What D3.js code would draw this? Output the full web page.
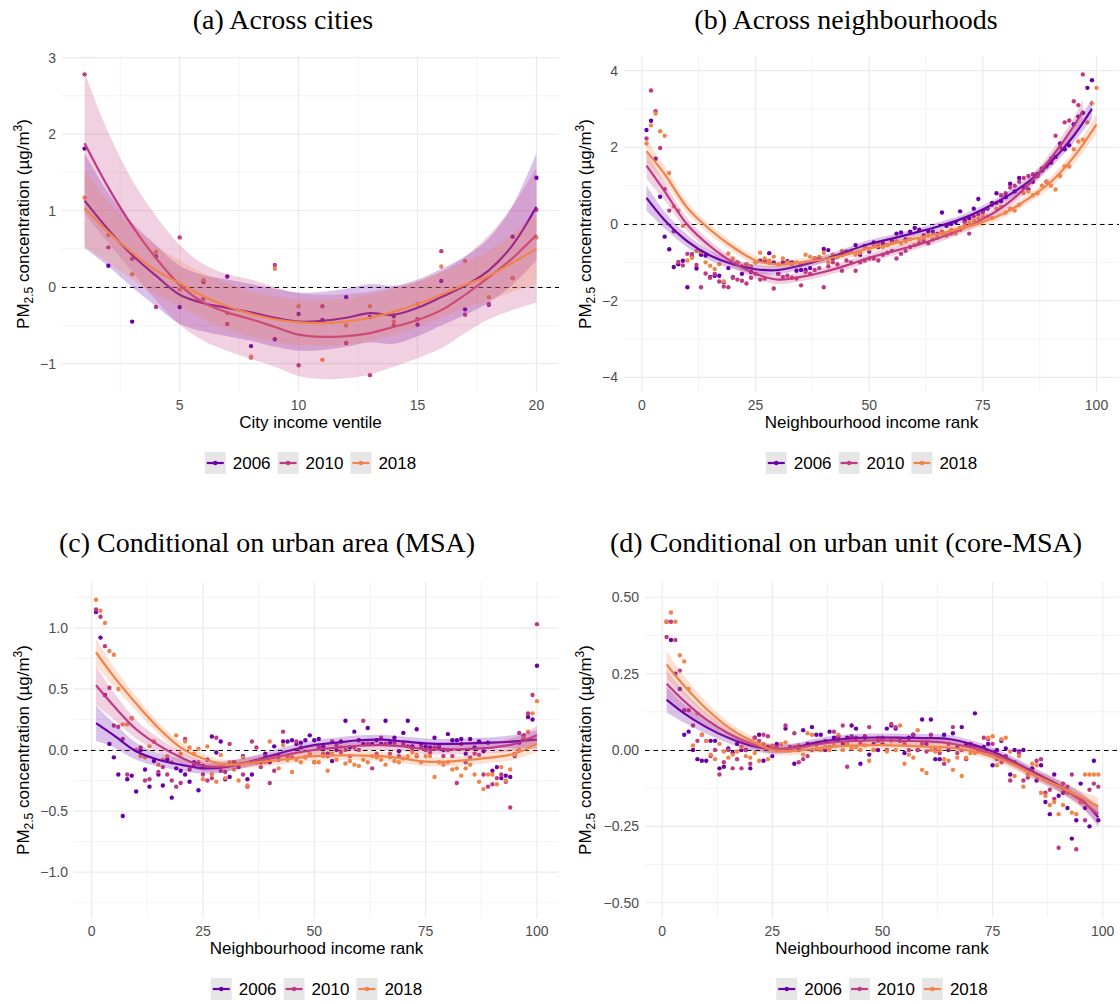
<!DOCTYPE html>
<html>
<head>
<meta charset="utf-8">
<script src="https://cdnjs.cloudflare.com/ajax/libs/d3/7.8.5/d3.min.js"></script>
<style>
  body { margin: 0; background: #fff; }
  svg text { font-family: "Liberation Sans", Arial, sans-serif; }
</style>
</head>
<body>
<svg id="chart" width="1120" height="1004"></svg>
<script>
/* ----------------------- DATA -----------------------*/
const years = ["2006", "2010", "2018"];

// knots of the smoothed fits (rank panels); last knot differs per series
const rankKnots = [1, 5, 10, 15, 20, 25, 30, 35, 40, 45, 50, 55, 60, 65, 70, 75, 80, 85, 90, 95];
const ventiles = [1, 2, 3, 4, 5, 6, 7, 8, 9, 10, 11, 12, 13, 14, 15, 16, 17, 18, 19, 20];

// (a) across cities, x = ventile 1..20
const aPts2006 = [1.81, 0.28, -0.45, 0.40, -0.26, 0.07, 0.14, -0.77, -0.68, -0.35, -0.43, -0.13, -0.39, -0.38, -0.49, 0.08, -0.29, -0.23, 0.66, 1.43];
const aPts2010 = [2.78, 0.52, 0.37, -0.26, 0.65, -0.15, -0.48, -0.92, 0.29, -1.02, -0.25, -0.73, -1.15, -0.50, -0.42, 0.47, -0.36, -0.22, 0.12, 1.01];
const aPts2018 = [1.17, 0.68, 0.17, 0.46, -0.03, 0.09, -0.34, -0.91, 0.24, -0.25, -0.95, -0.50, -0.25, -0.45, -0.22, 0.27, 0.34, -0.13, 0.12, 0.65];
const aFit2006 = [1.13, 0.75, 0.42, 0.15, -0.1, -0.21, -0.27, -0.33, -0.4, -0.45, -0.44, -0.40, -0.34, -0.36, -0.27, -0.13, 0.02, 0.22, 0.55, 1.05];
const aFit2010 = [1.88, 1.3, 0.8, 0.38, 0.03, -0.2, -0.33, -0.42, -0.52, -0.62, -0.65, -0.64, -0.6, -0.52, -0.43, -0.3, -0.1, 0.13, 0.38, 0.68];
const aFit2018 = [1.03, 0.72, 0.45, 0.22, 0.05, -0.12, -0.25, -0.35, -0.42, -0.46, -0.47, -0.45, -0.4, -0.32, -0.22, -0.1, 0.03, 0.15, 0.32, 0.5];
const aSe2006 = [0.62, 0.48, 0.42, 0.4, 0.38, 0.37, 0.37, 0.37, 0.38, 0.38, 0.38, 0.38, 0.38, 0.38, 0.37, 0.37, 0.38, 0.42, 0.52, 0.7];
const aSe2010 = [0.92, 0.72, 0.6, 0.55, 0.52, 0.5, 0.5, 0.52, 0.52, 0.54, 0.55, 0.55, 0.54, 0.52, 0.5, 0.5, 0.5, 0.55, 0.68, 0.88];
const aSe2018 = [0.5, 0.4, 0.35, 0.32, 0.3, 0.3, 0.3, 0.3, 0.3, 0.3, 0.3, 0.3, 0.3, 0.3, 0.3, 0.3, 0.3, 0.32, 0.38, 0.46];

// (b) across neighbourhoods, x = income rank
const bPts2006 = [2.45, 2.69, 1.7, 0.71, -0.33, -0.66, -1.12, -1.05, -0.96, -1.65,
  -0.85, -1.16, -0.8, -0.82, -1.38, -1.35, -1.35, -1.52, -1.15, -1.39,
  -1.0, -1.3, -1.05, -1.25, -1.0, -0.96, -0.96, -0.76, -1.0, -1.3,
  -1.0, -0.97, -1.0, -1.22, -1.2, -1.2, -1.15, -0.9, -0.88, -0.65,
  -0.68, -0.9, -0.85, -0.8, -0.72, -0.7, -0.55, -0.8, -0.57, -0.72,
  -0.48, -0.6, -0.5, -0.55, -0.45, -0.25, -0.22, -0.4, -0.2, -0.1,
  -0.15, -0.3, -0.2, -0.2, -0.25, 0.3, -0.05, 0.0, 0.05, 0.33,
  0.1, 0.15, 0.4, 0.65, 0.35, 0.4, 0.55, 0.8, 0.6, 0.7,
  1.05, 0.85, 1.2, 0.95, 0.9, 1.1, 1.3, 1.4, 1.1, 1.6,
  1.75, 2.1, 1.95, 2.05, 2.6, 2.8, 2.9, 3.55, 3.75];
const bPts2010 = [2.23, 3.48, 2.94, 1.98, 0.91, 0.35, -0.19, -0.99, -1.08, -0.78,
  -0.78, -1.07, -1.65, -1.29, -1.4, -1.3, -1.5, -1.63, -1.65, -1.4,
  -1.45, -1.48, -1.55, -1.4, -1.3, -1.45, -1.42, -1.0, -1.68, -1.3,
  -1.38, -1.35, -1.4, -1.42, -1.6, -1.25, -1.3, -1.2, -1.15, -1.65,
  -1.1, -1.0, -1.05, -1.22, -0.95, -1.0, -1.22, -1.0, -0.95, -0.9,
  -0.9, -0.95, -0.8, -0.75, -0.7, -0.9, -0.78, -0.7, -0.6, -0.55,
  -0.5, -0.45, -0.5, -0.4, -0.35, -0.2, -0.3, -0.25, -0.2, -0.15,
  0.05, -0.25, 0.2, 0.25, 0.3, 0.4, 0.5, 0.55, 0.75, 0.8,
  0.95, 1.0, 1.1, 1.2, 1.25, 1.3, 1.25, 1.45, 1.5, 1.7,
  2.3, 2.0, 2.65, 2.7, 3.2, 3.1, 3.9];
const bPts2018 = [2.1, 2.57, 2.88, 2.42, 2.3, 1.33, 0.46, 0.35, -0.05, -0.95,
  -0.88, -0.7, -0.73, -1.0, -1.09, -1.17, -1.05, -1.5, -0.77, -0.9,
  -1.0, -1.1, -1.05, -1.1, -1.0, -0.75, -0.9, -0.95, -0.85, -1.05,
  -0.9, -1.0, -1.05, -1.0, -1.05, -0.8, -0.85, -0.9, -0.85, -0.75,
  -1.0, -0.8, -0.85, -0.7, -0.75, -0.7, -0.8, -0.75, -0.6, -0.65,
  -0.55, -0.5, -0.6, -0.55, -0.5, -0.45, -0.5, -0.45, -0.4, -0.55,
  -0.4, -0.35, -0.3, -0.4, -0.35, -0.25, -0.3, -0.15, -0.25, -0.1,
  -0.05, 0.05, 0.1, 0.15, 0.2, 0.2, 0.15, 0.4, 0.45, 0.3,
  0.4, 0.35, 0.5, 0.8, 0.85, 0.75, 0.8, 1.0, 1.1, 1.0,
  0.9, 1.25, 1.5, 1.5, 1.95, 2.15, 2.2, 2.65, 3.15, 3.55];
const bKnotEnd = [99, 97, 100];
const bFit2006 = [0.68, 0.1, -0.45, -0.82, -1.05, -1.18, -1.2, -1.08, -0.92, -0.72, -0.52, -0.38, -0.23, -0.07, 0.12, 0.38, 0.7, 1.1, 1.62, 2.3, 3.0];
const bFit2010 = [1.52, 0.85, -0.02, -0.58, -1.0, -1.3, -1.45, -1.38, -1.25, -1.08, -0.88, -0.72, -0.56, -0.38, -0.15, 0.13, 0.5, 1.02, 1.72, 2.55, 2.95];
const bFit2018 = [1.9, 1.3, 0.42, -0.15, -0.6, -0.95, -1.06, -1.0, -0.92, -0.8, -0.64, -0.52, -0.38, -0.26, -0.12, 0.05, 0.3, 0.66, 1.1, 1.75, 2.6];
const bSe2006 = [0.33, 0.22, 0.16, 0.13, 0.12, 0.12, 0.11, 0.1, 0.1, 0.1, 0.1, 0.1, 0.1, 0.1, 0.1, 0.1, 0.11, 0.12, 0.14, 0.18, 0.27];
const bSe2010 = [0.35, 0.24, 0.17, 0.14, 0.13, 0.13, 0.12, 0.11, 0.11, 0.11, 0.11, 0.11, 0.11, 0.11, 0.11, 0.11, 0.12, 0.14, 0.17, 0.22, 0.3];
const bSe2018 = [0.3, 0.21, 0.15, 0.13, 0.12, 0.12, 0.11, 0.1, 0.1, 0.1, 0.1, 0.1, 0.1, 0.1, 0.1, 0.1, 0.11, 0.12, 0.14, 0.18, 0.26];

// (c) conditional on urban area (MSA)
const cPts2006 = [1.13, 0.92, 0.45, 0.05, -0.06, -0.2, -0.54, -0.24, -0.21, -0.34,
  0.0, -0.16, -0.3, -0.09, -0.2, -0.29, -0.08, -0.39, -0.15, -0.17,
  -0.2, -0.26, -0.1, -0.33, -0.13, -0.08, 0.11, -0.02, 0.07, -0.24,
  -0.22, -0.1, -0.14, -0.05, -0.24, -0.2, -0.1, -0.1, -0.03, -0.1,
  0.03, -0.05, 0.07, 0.07, 0.08, 0.05, 0.06, 0.08, 0.12, 0.08,
  0.09, 0.03, -0.03, -0.09, 0.0, 0.07, 0.24, 0.02, 0.15, 0.08,
  0.05, 0.18, 0.05, 0.08, 0.05, 0.24, 0.06, 0.1, -0.01, 0.14,
  0.24, 0.03, 0.17, 0.05, 0.03, 0.02, 0.1, 0.02, 0.0, 0.13,
  0.08, 0.08, 0.09, -0.03, 0.09, 0.02, 0.07, -0.01, 0.06, -0.17,
  -0.14, -0.23, -0.21, -0.22, -0.05, 0.06, 0.09, 0.27, 0.25, 0.69];
const cPts2010 = [1.15, 1.09, 0.85, 0.51, 0.2, 0.19, 0.09, -0.2, 0.26, 0.0,
  0.02, -0.25, -0.24, 0.07, -0.18, -0.14, -0.2, -0.25, -0.3, -0.27,
  0.09, -0.16, -0.12, -0.1, -0.2, -0.25, -0.23, 0.1, -0.17, -0.18,
  0.05, -0.1, -0.12, -0.2, -0.3, 0.07, 0.02, -0.14, -0.05, -0.27,
  -0.17, -0.08, 0.15, -0.05, -0.06, 0.07, 0.02, -0.06, -0.04, -0.1,
  0.02, -0.03, -0.05, 0.07, 0.04, -0.02, 0.0, -0.05, 0.02, 0.0,
  0.24, 0.05, -0.15, -0.03, 0.1, 0.05, -0.03, 0.06, -0.05, 0.05,
  0.03, 0.01, -0.05, 0.02, 0.0, -0.02, 0.02, 0.04, -0.05, 0.0,
  -0.05, -0.27, 0.05, -0.1, -0.06, -0.03, -0.04, -0.2, -0.3, -0.28,
  -0.23, -0.2, -0.26, -0.47, -0.03, 0.14, 0.12, 0.3, 0.45, 1.03];
const cPts2018 = [1.23, 1.14, 1.04, 0.81, 0.78, 0.5, 0.21, 0.21, 0.26, 0.0,
  -0.05, -0.06, 0.03, 0.07, -0.12, -0.08, -0.05, -0.1, 0.12, -0.03,
  0.07, 0.02, -0.03, 0.01, -0.24, 0.03, -0.2, -0.26, -0.04, -0.23,
  -0.1, -0.16, -0.25, -0.06, -0.29, -0.1, -0.1, -0.08, -0.1, 0.07,
  -0.05, -0.15, 0.04, -0.08, -0.18, -0.08, -0.1, -0.06, -0.03, -0.1,
  -0.1, -0.05, -0.17, -0.03, -0.08, 0.02, -0.11, -0.09, -0.12, -0.13,
  -0.08, -0.1, -0.05, -0.06, -0.08, -0.12, -0.06, -0.09, -0.1, -0.07,
  -0.05, -0.02, -0.04, -0.1, -0.05, -0.05, -0.22, -0.1, -0.12, -0.1,
  -0.16, -0.15, -0.21, -0.15, -0.12, -0.2, -0.26, -0.32, -0.2, -0.2,
  -0.28, -0.14, -0.25, -0.16, -0.04, 0.0, 0.1, 0.15, 0.3, 0.4];
const cKnotEnd = [100, 100, 100];
const cFit2006 = [0.22, 0.12, -0.01, -0.08, -0.12, -0.15, -0.14, -0.1, -0.05, 0.0, 0.04, 0.06, 0.08, 0.085, 0.07, 0.055, 0.05, 0.055, 0.06, 0.07, 0.085];
const cFit2010 = [0.53, 0.36, 0.17, 0.04, -0.06, -0.13, -0.13, -0.1, -0.07, -0.03, 0.0, 0.02, 0.035, 0.04, 0.03, 0.005, 0.005, 0.01, 0.02, 0.05, 0.12];
const cFit2018 = [0.8, 0.6, 0.38, 0.18, 0.02, -0.07, -0.12, -0.11, -0.09, -0.07, -0.05, -0.045, -0.045, -0.05, -0.07, -0.095, -0.095, -0.08, -0.06, -0.03, 0.05];
const cSe2006 = [0.145, 0.1, 0.07, 0.055, 0.05, 0.045, 0.042, 0.04, 0.04, 0.04, 0.04, 0.04, 0.04, 0.04, 0.04, 0.04, 0.04, 0.042, 0.045, 0.055, 0.075];
const cSe2010 = [0.16, 0.11, 0.075, 0.06, 0.05, 0.045, 0.042, 0.04, 0.04, 0.04, 0.04, 0.04, 0.04, 0.04, 0.04, 0.04, 0.04, 0.042, 0.045, 0.055, 0.075];
const cSe2018 = [0.11, 0.08, 0.06, 0.05, 0.045, 0.042, 0.04, 0.038, 0.038, 0.038, 0.038, 0.038, 0.038, 0.038, 0.038, 0.038, 0.038, 0.04, 0.042, 0.05, 0.065];

// (d) conditional on urban unit (core-MSA)
const dPts2006 = [0.42, 0.36, 0.25, 0.2, 0.05, 0.06, 0.0, -0.03, -0.035, -0.035,
  0.03, 0.03, -0.06, -0.055, 0.005, -0.01, 0.02, 0.0, 0.0, -0.06,
  0.04, 0.05, -0.035, 0.01, -0.02, 0.02, 0.0, 0.07, 0.0, -0.045,
  0.0, 0.065, 0.02, 0.075, 0.05, 0.05, 0.0, 0.06, 0.04, 0.035,
  0.02, 0.04, 0.08, 0.07, -0.045, 0.04, -0.015, 0.02, 0.0, 0.02,
  0.07, 0.08, 0.07, 0.03, -0.01, 0.04, 0.05, 0.0, 0.1, 0.02,
  0.1, -0.03, -0.03, 0.05, 0.0, 0.055, 0.01, 0.075, 0.02, 0.015,
  0.12, 0.0, 0.01, 0.02, -0.05, 0.0, 0.03, 0.005, -0.08, 0.0,
  -0.005, 0.0, -0.065, -0.06, -0.1, -0.05, -0.17, -0.21, -0.08, -0.15,
  -0.14, -0.19, -0.29, -0.23, -0.11, -0.19, -0.25, -0.035, -0.23];
const dPts2010 = [0.37, 0.42, 0.36, 0.26, 0.13, 0.13, 0.08, 0.03, 0.05, 0.03,
  -0.02, 0.0, -0.08, -0.04, 0.0, -0.06, -0.03, -0.06, 0.0, -0.045,
  0.04, 0.03, 0.05, 0.045, 0.01, 0.01, 0.0, 0.08, 0.01, 0.055,
  -0.04, -0.03, -0.02, 0.0, 0.02, 0.0, 0.03, 0.01, 0.06, 0.045,
  0.08, -0.055, 0.045, 0.04, 0.02, 0.045, 0.075, 0.0, 0.03, 0.04,
  0.0, 0.085, 0.075, 0.03, 0.02, 0.0, 0.05, 0.0, 0.02, -0.005,
  0.05, 0.0, -0.01, -0.045, 0.02, 0.075, -0.01, 0.0, -0.03, 0.02,
  0.01, 0.0, 0.04, 0.035, 0.02, -0.03, -0.04, -0.02, -0.1, -0.04,
  -0.01, -0.1, -0.09, -0.07, -0.035, -0.03, -0.14, -0.13, -0.16, -0.32,
  -0.11, -0.12, -0.08, -0.325, -0.17, -0.23, -0.13, -0.11, -0.12];
const dPts2018 = [0.42, 0.45, 0.42, 0.31, 0.29, 0.2, 0.015, 0.12, 0.05, 0.03,
  -0.015, -0.03, 0.02, -0.005, -0.025, -0.015, -0.005, 0.01, -0.02, -0.025,
  -0.01, -0.035, 0.02, -0.03, 0.015, 0.0, 0.02, 0.025, 0.0, 0.01,
  0.015, -0.015, 0.055, 0.05, 0.005, 0.0, 0.01, 0.0, 0.015, 0.05,
  0.0, 0.02, 0.005, 0.01, 0.0, 0.015, -0.035, 0.0, 0.04, 0.03,
  -0.005, 0.03, 0.0, 0.08, -0.045, -0.015, -0.025, 0.065, -0.065, -0.075,
  0.0, -0.005, 0.0, -0.03, -0.035, -0.065, -0.025, -0.085, -0.025, -0.01,
  -0.01, 0.005, -0.005, 0.04, 0.045, -0.05, 0.035, 0.04, -0.005, -0.085,
  -0.02, -0.12, -0.08, -0.045, -0.05, -0.14, -0.15, -0.18, -0.17, -0.21,
  -0.18, -0.14, -0.205, -0.21, -0.17, -0.08, -0.08, -0.08, -0.08];
const dKnotEnd = [99, 99, 99];
const dFit2006 = [0.165, 0.12, 0.075, 0.04, 0.015, 0.003, 0.008, 0.025, 0.035, 0.04, 0.041, 0.04, 0.039, 0.036, 0.02, -0.005, -0.04, -0.078, -0.115, -0.16, -0.22];
const dFit2010 = [0.217, 0.16, 0.1, 0.055, 0.022, 0.005, 0.006, 0.018, 0.027, 0.03, 0.032, 0.03, 0.028, 0.022, 0.008, -0.013, -0.045, -0.085, -0.12, -0.165, -0.21];
const dFit2018 = [0.28, 0.21, 0.135, 0.075, 0.032, 0.0, -0.003, 0.005, 0.012, 0.015, 0.016, 0.014, 0.011, 0.008, -0.002, -0.022, -0.05, -0.085, -0.118, -0.155, -0.185];
const dSe2006 = [0.042, 0.03, 0.022, 0.018, 0.016, 0.015, 0.014, 0.013, 0.013, 0.013, 0.013, 0.013, 0.013, 0.013, 0.013, 0.014, 0.015, 0.016, 0.018, 0.022, 0.032];
const dSe2010 = [0.045, 0.032, 0.023, 0.018, 0.016, 0.015, 0.014, 0.013, 0.013, 0.013, 0.013, 0.013, 0.013, 0.013, 0.013, 0.014, 0.015, 0.016, 0.018, 0.022, 0.032];
const dSe2018 = [0.045, 0.032, 0.023, 0.018, 0.016, 0.015, 0.014, 0.013, 0.013, 0.013, 0.013, 0.013, 0.013, 0.013, 0.013, 0.014, 0.015, 0.016, 0.018, 0.022, 0.03];

/* ----------------------- STYLE -----------------------*/
const yearColors = ["#6a00a8", "#c03a83", "#f1844b"];
const gridColor = "#ebebeb";
const tickColor = "#4d4d4d";

const svg = d3.select("#chart");

// Build the panel table from the arrays above
function rankSeries(pts, fits, ses, ends) {
  return years.map(function(yr, i) {
    return {pts: pts[i], fitX: rankKnots.concat([ends[i]]), fit: fits[i], se: ses[i]};
  });
}

const panels = [
  {title: "(a) Across cities", xTitle: "City income ventile",
   left: 62, right: 559, top: 56, bottom: 392, titleX: 283, titleY: 29, yTitleX: 29,
   xDomain: [0.05, 20.95], yDomain: [-1.37, 3.02],
   xMajor: [5, 10, 15, 20], xMinor: [2.5, 7.5, 12.5, 17.5],
   yMajor: [-1, 0, 1, 2, 3], yMinor: [-0.5, 0.5, 1.5, 2.5], yFormat: d3.format("d"),
   series: years.map(function(yr, i) {
     return {pts: [aPts2006, aPts2010, aPts2018][i], fitX: ventiles,
             fit: [aFit2006, aFit2010, aFit2018][i], se: [aSe2006, aSe2010, aSe2018][i]};
   })},
  {title: "(b) Across neighbourhoods", xTitle: "Neighbourhood income rank",
   left: 624, right: 1119, top: 56, bottom: 392, titleX: 846, titleY: 29, yTitleX: 591,
   xDomain: [-3.95, 104.95], yDomain: [-4.38, 4.38],
   xMajor: [0, 25, 50, 75, 100], xMinor: [12.5, 37.5, 62.5, 87.5],
   yMajor: [-4, -2, 0, 2, 4], yMinor: [-3, -1, 1, 3], yFormat: d3.format("d"),
   series: rankSeries([bPts2006, bPts2010, bPts2018], [bFit2006, bFit2010, bFit2018], [bSe2006, bSe2010, bSe2018], bKnotEnd)},
  {title: "(c) Conditional on urban area (MSA)", xTitle: "Neighbourhood income rank",
   left: 74, right: 559, top: 582, bottom: 918, titleX: 267, titleY: 552, yTitleX: 29,
   xDomain: [-3.95, 104.95], yDomain: [-1.375, 1.375],
   xMajor: [0, 25, 50, 75, 100], xMinor: [12.5, 37.5, 62.5, 87.5],
   yMajor: [-1, -0.5, 0, 0.5, 1], yMinor: [-1.25, -0.75, -0.25, 0.25, 0.75, 1.25], yFormat: d3.format(".1f"),
   series: rankSeries([cPts2006, cPts2010, cPts2018], [cFit2006, cFit2010, cFit2018], [cSe2006, cSe2010, cSe2018], cKnotEnd)},
  {title: "(d) Conditional on urban unit (core-MSA)", xTitle: "Neighbourhood income rank",
   left: 645, right: 1119, top: 582, bottom: 918, titleX: 846, titleY: 552, yTitleX: 591,
   xDomain: [-3.9, 103.7], yDomain: [-0.55, 0.55],
   xMajor: [0, 25, 50, 75, 100], xMinor: [12.5, 37.5, 62.5, 87.5],
   yMajor: [-0.5, -0.25, 0, 0.25, 0.5], yMinor: [-0.375, -0.125, 0.125, 0.375], yFormat: d3.format(".2f"),
   series: rankSeries([dPts2006, dPts2010, dPts2018], [dFit2006, dFit2010, dFit2018], [dSe2006, dSe2010, dSe2018], dKnotEnd)}
];

/* ----------------------- DRAWING -----------------------*/
function minus(s) { return s.replace("-", "\u2212"); }

function drawPanel(p) {
  var g = svg.append("g");
  var x = d3.scaleLinear().domain(p.xDomain).range([p.left, p.right]);
  var y = d3.scaleLinear().domain(p.yDomain).range([p.bottom, p.top]);

  // Grid: minor first, then major
  function vLines(vals, w) {
    g.selectAll(null).data(vals).enter().append("line")
      .attr("x1", function(d) {return x(d);}).attr("x2", function(d) {return x(d);})
      .attr("y1", p.top).attr("y2", p.bottom)
      .attr("stroke", gridColor).attr("stroke-width", w);
  }
  function hLines(vals, w) {
    g.selectAll(null).data(vals).enter().append("line")
      .attr("x1", p.left).attr("x2", p.right)
      .attr("y1", function(d) {return y(d);}).attr("y2", function(d) {return y(d);})
      .attr("stroke", gridColor).attr("stroke-width", w);
  }
  vLines(p.xMinor, 0.6); hLines(p.yMinor, 0.6);
  vLines(p.xMajor, 1.2); hLines(p.yMajor, 1.2);

  // Tick labels
  g.selectAll(null).data(p.yMajor).enter().append("text")
    .attr("x", p.left - 6).attr("y", function(d) {return y(d) + 5;})
    .attr("text-anchor", "end").attr("font-size", 14).attr("fill", tickColor)
    .text(function(d) {return minus(p.yFormat(d));});
  g.selectAll(null).data(p.xMajor).enter().append("text")
    .attr("x", function(d) {return x(d);}).attr("y", p.bottom + 18)
    .attr("text-anchor", "middle").attr("font-size", 14).attr("fill", tickColor)
    .text(function(d) {return d;});

  // Dashed zero line (snapped to the pixel grid so it stays crisp)
  var y0 = Math.round(y(0)) + 0.5;
  g.append("line")
    .attr("x1", p.left).attr("x2", p.right).attr("y1", y0).attr("y2", y0)
    .attr("stroke", "#000").attr("stroke-width", 1.2).attr("stroke-dasharray", "4.5,4");

  // Points
  p.series.forEach(function(s, i) {
    g.selectAll(null).data(s.pts).enter().append("circle")
      .attr("cx", function(d, j) {return x(j + 1);})
      .attr("cy", function(d) {return y(d);})
      .attr("r", 2.2).attr("fill", yearColors[i]);
  });

  // Smooth + confidence band, one group after another
  p.series.forEach(function(s, i) {
    var rows = s.fitX.map(function(v, k) {return {x: v, f: s.fit[k], se: s.se[k]};});
    var band = d3.area().curve(d3.curveCatmullRom.alpha(0.5))
      .x(function(d) {return x(d.x);})
      .y0(function(d) {return y(d.f - d.se);})
      .y1(function(d) {return y(d.f + d.se);});
    var line = d3.line().curve(d3.curveCatmullRom.alpha(0.5))
      .x(function(d) {return x(d.x);})
      .y(function(d) {return y(d.f);});
    g.append("path").datum(rows).attr("d", band)
      .attr("fill", yearColors[i]).attr("fill-opacity", 0.24);
    g.append("path").datum(rows).attr("d", line)
      .attr("fill", "none").attr("stroke", yearColors[i]).attr("stroke-width", 2.2);
  });

  // Titles
  svg.append("text").attr("x", p.titleX).attr("y", p.titleY)
    .attr("text-anchor", "middle").attr("font-size", 28)
    .style("font-family", "'Liberation Serif', 'Times New Roman', serif")
    .text(p.title);
  svg.append("text").attr("x", (p.left + p.right) / 2).attr("y", p.bottom + 36)
    .attr("text-anchor", "middle").attr("font-size", 17).attr("fill", "#000")
    .text(p.xTitle);

  // Y title with subscript / superscript
  var yt = svg.append("text")
    .attr("transform", "translate(" + p.yTitleX + "," + ((p.top + p.bottom) / 2) + ") rotate(-90)")
    .attr("text-anchor", "middle").attr("font-size", 17).attr("fill", "#000");
  yt.append("tspan").text("PM");
  yt.append("tspan").attr("dy", 4).attr("font-size", 12).text("2.5");
  yt.append("tspan").attr("dy", -4).text(" concentration (\u00b5g/m");
  yt.append("tspan").attr("dy", -7).attr("font-size", 12).text("3");
  yt.append("tspan").attr("dy", 7).text(")");

  // Legend
  var lg = svg.append("g");
  var cx = 0;
  years.forEach(function(yr, i) {
    var item = lg.append("g").attr("transform", "translate(" + cx + ",0)");
    item.append("rect").attr("x", 0).attr("y", -11).attr("width", 21).attr("height", 22)
      .attr("fill", "#e6e6e6");
    item.append("line").attr("x1", 2).attr("x2", 19).attr("y1", 0).attr("y2", 0)
      .attr("stroke", yearColors[i]).attr("stroke-width", 2.2);
    item.append("circle").attr("cx", 10.5).attr("cy", 0).attr("r", 2.2).attr("fill", yearColors[i]);
    var t = item.append("text").attr("x", 28).attr("y", 6).attr("font-size", 17).attr("fill", "#000").text(yr);
    cx += 28 + t.node().getComputedTextLength() + 7;
  });
  var lw = cx - 7;
  lg.attr("transform", "translate(" + ((p.left + p.right) / 2 - lw / 2) + "," + (p.bottom + 71) + ")");
}

panels.forEach(drawPanel);
</script>
</body>
</html>
